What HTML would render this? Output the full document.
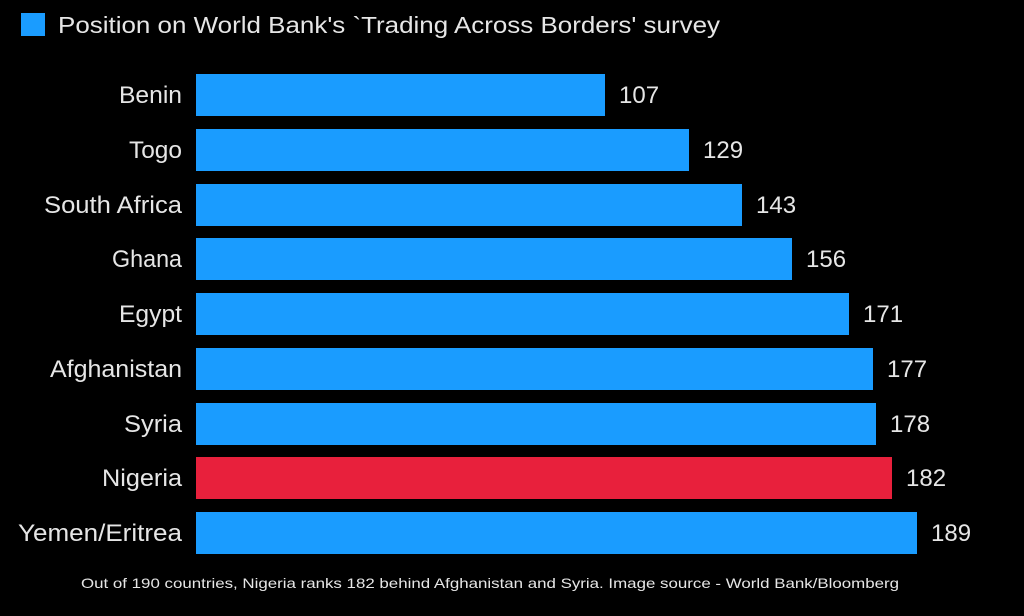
<!DOCTYPE html>
<html><head><style>
html,body{margin:0;padding:0;background:#000;}
svg{display:block;}
text{font-family:"Liberation Sans",sans-serif;}
</style></head><body>
<svg width="1024" height="616" viewBox="0 0 1024 616" xmlns="http://www.w3.org/2000/svg">
<rect width="1024" height="616" fill="#000"/>
<rect x="21" y="13" width="24" height="23" fill="#1a9cff"/>
<text x="58" y="33" font-size="23" fill="#e6e6e6" textLength="662" lengthAdjust="spacingAndGlyphs">Position on World Bank's `Trading Across Borders' survey</text>
<g font-size="24" fill="#e6e6e6">
<rect x="196" y="74" width="409" height="42" fill="#1a9cff"/>
<text x="119" y="103" textLength="63" lengthAdjust="spacingAndGlyphs">Benin</text><text x="619" y="103">107</text>
<rect x="196" y="129" width="493" height="42" fill="#1a9cff"/>
<text x="129" y="158" textLength="53" lengthAdjust="spacingAndGlyphs">Togo</text><text x="703" y="158">129</text>
<rect x="196" y="184" width="546" height="42" fill="#1a9cff"/>
<text x="44" y="213" textLength="138" lengthAdjust="spacingAndGlyphs">South Africa</text><text x="756" y="213">143</text>
<rect x="196" y="238" width="596" height="42" fill="#1a9cff"/>
<text x="112" y="267" textLength="70" lengthAdjust="spacingAndGlyphs">Ghana</text><text x="806" y="267">156</text>
<rect x="196" y="293" width="653" height="42" fill="#1a9cff"/>
<text x="119" y="322" textLength="63" lengthAdjust="spacingAndGlyphs">Egypt</text><text x="863" y="322">171</text>
<rect x="196" y="348" width="677" height="42" fill="#1a9cff"/>
<text x="50" y="377" textLength="132" lengthAdjust="spacingAndGlyphs">Afghanistan</text><text x="887" y="377">177</text>
<rect x="196" y="403" width="680" height="42" fill="#1a9cff"/>
<text x="124" y="432" textLength="58" lengthAdjust="spacingAndGlyphs">Syria</text><text x="890" y="432">178</text>
<rect x="196" y="457" width="696" height="42" fill="#e8203c"/>
<text x="102" y="486" textLength="80" lengthAdjust="spacingAndGlyphs">Nigeria</text><text x="906" y="486">182</text>
<rect x="196" y="512" width="721" height="42" fill="#1a9cff"/>
<text x="18" y="541" textLength="164" lengthAdjust="spacingAndGlyphs">Yemen/Eritrea</text><text x="931" y="541">189</text>
</g>
<text x="81" y="588" font-size="14" fill="#e6e6e6" textLength="818" lengthAdjust="spacingAndGlyphs">Out of 190 countries, Nigeria ranks 182 behind Afghanistan and Syria. Image source - World Bank/Bloomberg</text>
</svg>
</body></html>
